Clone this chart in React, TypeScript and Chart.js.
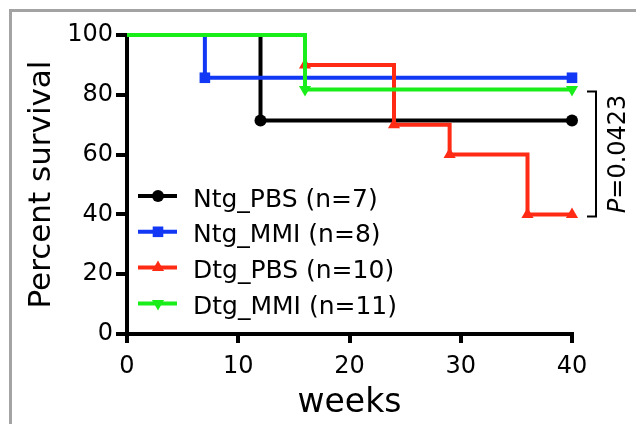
import React, { useEffect, useRef } from 'react';
import { Chart, registerables } from 'chart.js';

Chart.register(...registerables);

// ---- data ----
const seriesLabels = ['Ntg_PBS (n=7)', 'Ntg_MMI (n=8)', 'Dtg_PBS (n=10)', 'Dtg_MMI (n=11)'];
const seriesColors = ['#000000', '#1238f5', '#ff2b14', '#1aee1a'];
const seriesPointStyles = ['circle', 'rect', 'triangle', 'triangle'];
const seriesPointRotations = [0, 0, 0, 180];
const seriesPointRadii = [6, 7.5, 7, 7];

const ntgPbsWeeks = [0, 12, 40];
const ntgPbsSurvival = [100, 71.4, 71.4];
const ntgMmiWeeks = [0, 7, 40];
const ntgMmiSurvival = [100, 85.7, 85.7];
const dtgPbsWeeks = [0, 16, 24, 29, 36, 40];
const dtgPbsSurvival = [100, 90, 70, 60, 40, 40];
const dtgMmiWeeks = [0, 16, 40];
const dtgMmiSurvival = [100, 81.8, 81.8];

const xTicks = [0, 10, 20, 30, 40];
const yTicks = [0, 20, 40, 60, 80, 100];
const xTitle = 'weeks';
const yTitle = 'Percent survival';
const pLetter = 'P';
const pRest = '=0.0423';
const pBracketValues = [81.8, 40];

const FONT = '"DejaVu Sans", sans-serif';

const seriesWeeks = [ntgPbsWeeks, ntgMmiWeeks, dtgPbsWeeks, dtgMmiWeeks];
const seriesSurvival = [ntgPbsSurvival, ntgMmiSurvival, dtgPbsSurvival, dtgMmiSurvival];

function drawMarker(ctx: CanvasRenderingContext2D, style: string, x: number, y: number, r: number, rot: number, color: string) {
  ctx.save();
  ctx.fillStyle = color;
  ctx.beginPath();
  if (style === 'circle') {
    ctx.arc(x, y, r, 0, Math.PI * 2);
  } else if (style === 'rect') {
    const s = r * Math.SQRT1_2;
    ctx.rect(x - s, y - s, 2 * s, 2 * s);
  } else {
    const dir = rot === 180 ? -1 : 1;
    const a = (30 * Math.PI) / 180;
    ctx.moveTo(x, y - dir * r);
    ctx.lineTo(x + Math.cos(a) * r, y + dir * Math.sin(a) * r);
    ctx.lineTo(x - Math.cos(a) * r, y + dir * Math.sin(a) * r);
    ctx.closePath();
  }
  ctx.fill();
  ctx.restore();
}

const framePlugin = {
  id: 'frame',
  beforeDraw(chart: any) {
    const ctx = chart.ctx as CanvasRenderingContext2D;
    ctx.save();
    ctx.fillStyle = '#a3a3a3';
    ctx.fillRect(9, 9, chart.width - 9, 3);
    ctx.fillRect(9, 9, 3, chart.height - 9);
    ctx.restore();
  },
};

const legendPlugin = {
  id: 'kmLegend',
  afterDraw(chart: any) {
    const ctx = chart.ctx as CanvasRenderingContext2D;
    ctx.save();
    seriesLabels.forEach((label, i) => {
      const y = 196 + i * 35.8;
      ctx.strokeStyle = seriesColors[i];
      ctx.lineWidth = 4;
      ctx.beginPath();
      ctx.moveTo(138, y);
      ctx.lineTo(177, y);
      ctx.stroke();
      drawMarker(ctx, seriesPointStyles[i], 158, y, seriesPointRadii[i], seriesPointRotations[i], seriesColors[i]);
      ctx.fillStyle = '#000';
      ctx.font = `25px ${FONT}`;
      ctx.textAlign = 'left';
      ctx.textBaseline = 'alphabetic';
      ctx.fillText(label, 193, y + 10.5);
    });
    ctx.restore();
  },
};

const pValuePlugin = {
  id: 'pValue',
  afterDraw(chart: any) {
    const ctx = chart.ctx as CanvasRenderingContext2D;
    const yScale = chart.scales.y;
    const xScale = chart.scales.x;
    const yTop = yScale.getPixelForValue(pBracketValues[0]) + 2;
    const yBot = yScale.getPixelForValue(pBracketValues[1]) + 2;
    const xr = xScale.right + 24;
    ctx.save();
    ctx.strokeStyle = '#000';
    ctx.lineWidth = 2;
    ctx.beginPath();
    ctx.moveTo(xr - 9, yTop);
    ctx.lineTo(xr, yTop);
    ctx.lineTo(xr, yBot);
    ctx.lineTo(xr - 9, yBot);
    ctx.stroke();

    const fontNormal = `24px ${FONT}`;
    const fontItalic = `italic 24px ${FONT}`;
    ctx.font = fontItalic;
    const wP = ctx.measureText(pLetter).width;
    ctx.font = fontNormal;
    const wR = ctx.measureText(pRest).width;
    const total = wP + wR;
    const cy = (yTop + yBot) / 2;
    ctx.translate(xr + 29, cy);
    ctx.rotate(-Math.PI / 2);
    ctx.fillStyle = '#000';
    ctx.textAlign = 'left';
    ctx.textBaseline = 'alphabetic';
    ctx.font = fontItalic;
    ctx.fillText(pLetter, -total / 2, 0);
    ctx.font = fontNormal;
    ctx.fillText(pRest, -total / 2 + wP, 0);
    ctx.restore();
  },
};

export default function App() {
  const canvasRef = useRef<HTMLCanvasElement | null>(null);

  useEffect(() => {
    if (!canvasRef.current) return;
    const datasets = seriesLabels.map((label, i) => ({
      label,
      data: seriesWeeks[i].map((w, j) => ({ x: w, y: seriesSurvival[i][j] })),
      borderColor: seriesColors[i],
      backgroundColor: seriesColors[i],
      borderWidth: 4,
      stepped: 'before' as const,
      pointStyle: seriesPointStyles[i] as any,
      rotation: seriesPointRotations[i],
      pointRotation: seriesPointRotations[i],
      pointRadius: seriesWeeks[i].map((_, j) => (j === 0 ? 0 : seriesPointRadii[i])),
      pointBorderWidth: 0,
      pointBackgroundColor: seriesColors[i],
      fill: false,
      clip: false as any,
      order: seriesLabels.length - i,
    }));

    const chart = new Chart(canvasRef.current, {
      type: 'line',
      data: { datasets },
      options: {
        animation: false,
        responsive: false,
        devicePixelRatio: 1,
        color: '#000',
        layout: { padding: { left: 0, top: 35, right: 64, bottom: 0 } },
        plugins: {
          legend: { display: false },
          tooltip: { enabled: false },
        },
        scales: {
          x: {
            type: 'linear',
            min: 0,
            max: 40,
            afterBuildTicks: (scale: any) => {
              scale.ticks = xTicks.map((v) => ({ value: v }));
            },
            afterFit: (scale: any) => {
              scale.height = 90;
            },
            ticks: {
              color: '#000',
              font: { family: FONT, size: 24 },
              padding: 9,
              maxRotation: 0,
            },
            grid: {
              display: true,
              drawOnChartArea: false,
              drawTicks: true,
              tickLength: 9,
              tickWidth: 4,
              tickColor: '#000',
              color: '#000',
              lineWidth: 4,
            },
            border: { display: true, color: '#000', width: 4 },
            title: {
              display: true,
              text: xTitle,
              color: '#000',
              font: { family: FONT, size: 33 },
              padding: { top: 0, bottom: 1 },
            },
          },
          y: {
            type: 'linear',
            min: 0,
            max: 100,
            afterBuildTicks: (scale: any) => {
              scale.ticks = yTicks.map((v) => ({ value: v }));
            },
            afterFit: (scale: any) => {
              scale.width = 127;
            },
            ticks: {
              color: '#000',
              font: { family: FONT, size: 24 },
              padding: 3,
            },
            grid: {
              display: true,
              drawOnChartArea: false,
              drawTicks: true,
              tickLength: 11,
              tickWidth: 4,
              tickColor: '#000',
              color: '#000',
              lineWidth: 4,
            },
            border: { display: true, color: '#000', width: 4 },
            title: {
              display: true,
              text: yTitle,
              color: '#000',
              font: { family: FONT, size: 31 },
              padding: { top: 23, bottom: 0 },
            },
          },
        },
      },
      plugins: [framePlugin, legendPlugin, pValuePlugin],
    });
    return () => chart.destroy();
  }, []);

  return (
    <div style={{ position: 'absolute', left: 0, top: 0, width: 636, height: 424, background: '#fff' }}>
      <canvas ref={canvasRef} width={636} height={424} style={{ width: 636, height: 424, display: 'block' }} />
    </div>
  );
}
